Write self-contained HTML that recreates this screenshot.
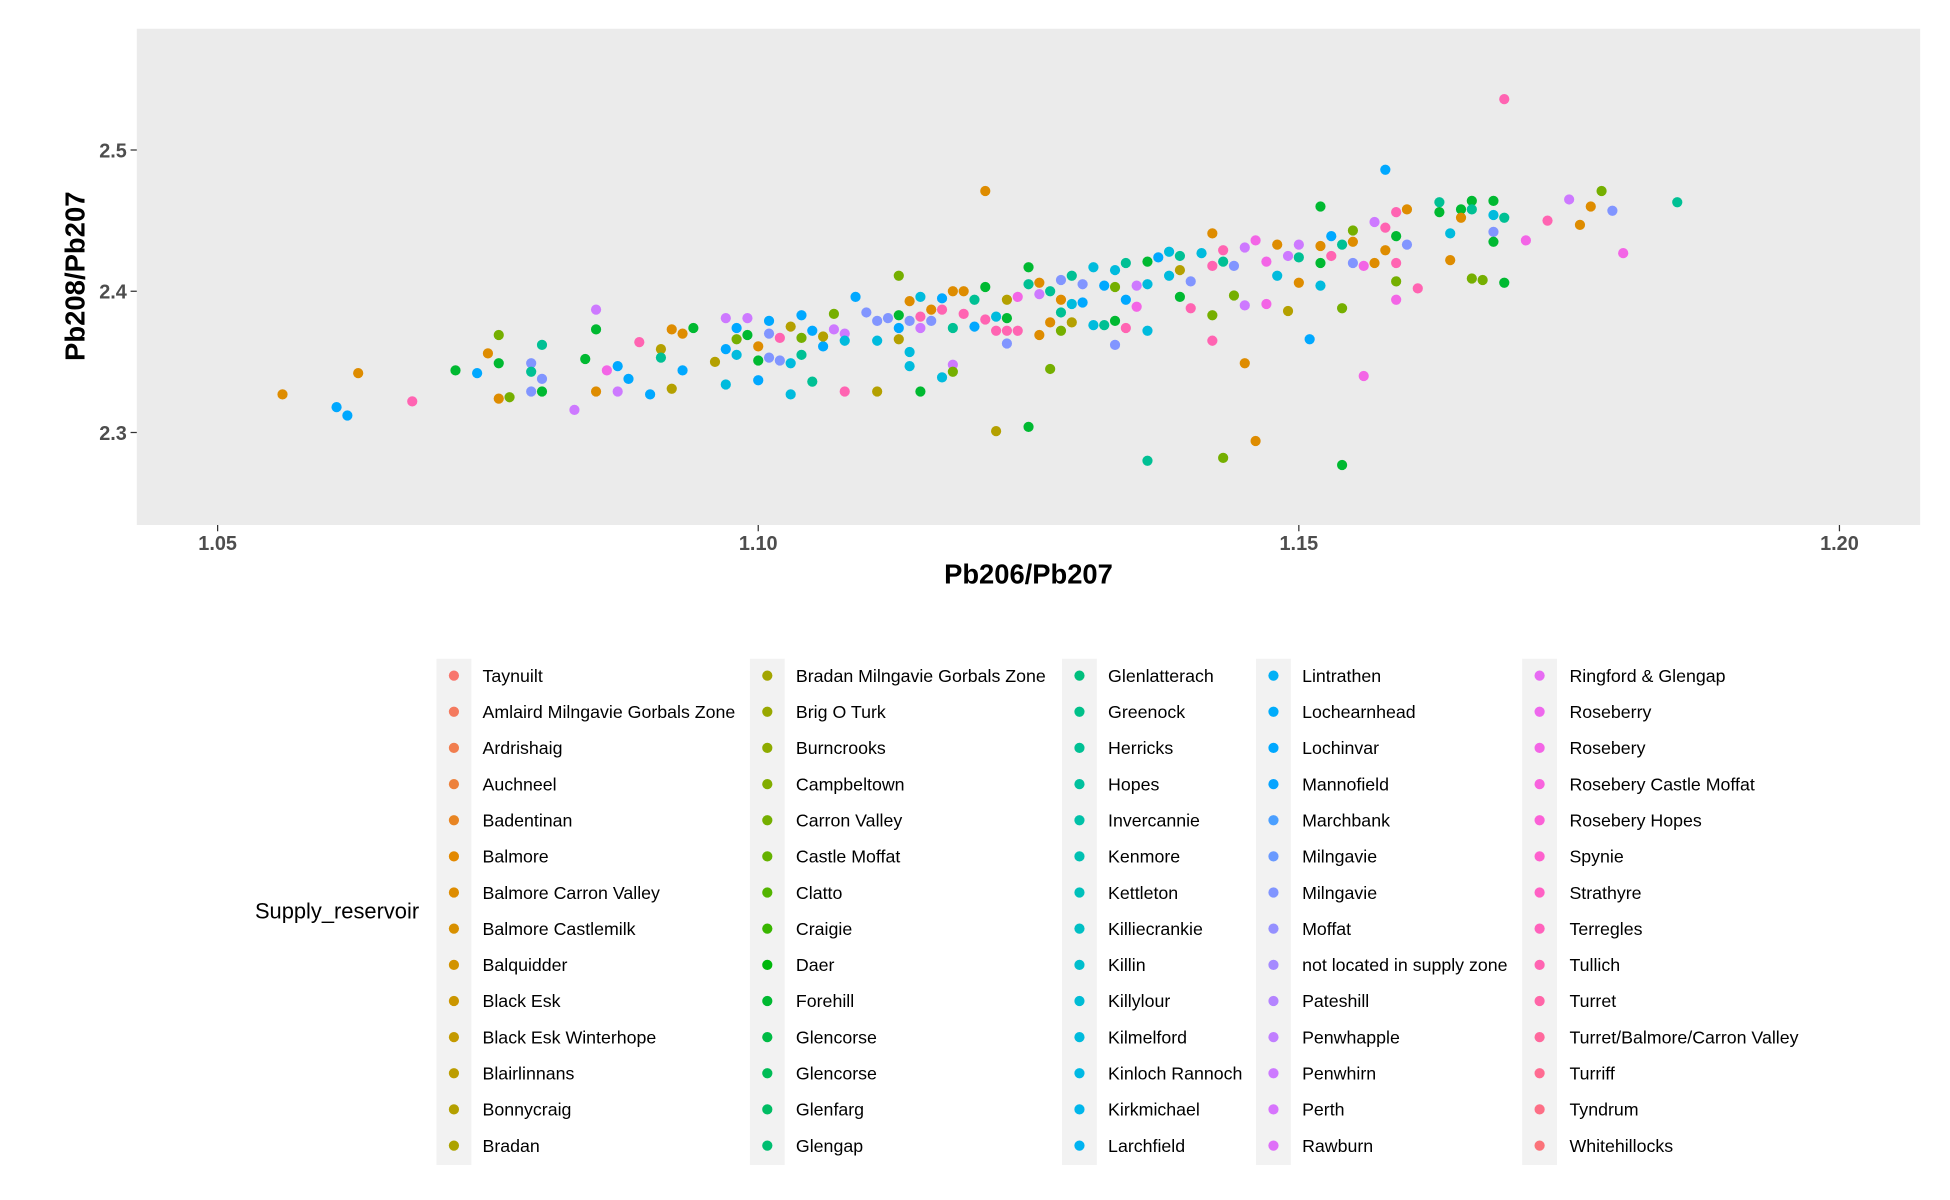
<!DOCTYPE html>
<html><head><meta charset="utf-8"><style>
html,body{margin:0;padding:0;background:#fff;}
svg{display:block;font-family:"Liberation Sans",Arial,sans-serif;}
</style></head><body>
<svg id="chart" width="1950" height="1200" viewBox="0 0 1568 960" preserveAspectRatio="none" xmlns="http://www.w3.org/2000/svg">
<rect x="110" y="23" width="1434" height="397" fill="#ebebeb"/>
<g id="points"></g>
<g id="axes"></g>
<text x="827" y="467" text-anchor="middle" font-size="22" font-weight="bold">Pb206/Pb207</text>
<text transform="translate(68,221) rotate(-90)" text-anchor="middle" font-size="22" font-weight="bold">Pb208/Pb207</text>
<text x="205" y="735" font-size="17.6">Supply_reservoir</text>
<g id="legend"></g>
</svg>
<script>
const xTicks=[1.05,1.10,1.15,1.20];
const xTickLabels=["1.05","1.10","1.15","1.20"];
const yTicks=[2.3,2.4,2.5];
const yTickLabels=["2.3","2.4","2.5"];
const categories=["Taynuilt","Amlaird Milngavie Gorbals Zone","Ardrishaig","Auchneel","Badentinan","Balmore","Balmore Carron Valley","Balmore Castlemilk","Balquidder","Black Esk","Black Esk Winterhope","Blairlinnans","Bonnycraig","Bradan",
"Bradan Milngavie Gorbals Zone","Brig O Turk","Burncrooks","Campbeltown","Carron Valley","Castle Moffat","Clatto","Craigie","Daer","Forehill","Glencorse","Glencorse","Glenfarg","Glengap",
"Glenlatterach","Greenock","Herricks","Hopes","Invercannie","Kenmore","Kettleton","Killiecrankie","Killin","Killylour","Kilmelford","Kinloch Rannoch","Kirkmichael","Larchfield",
"Lintrathen","Lochearnhead","Lochinvar","Mannofield","Marchbank","Milngavie","Milngavie","Moffat","not located in supply zone","Pateshill","Penwhapple","Penwhirn","Perth","Rawburn",
"Ringford & Glengap","Roseberry","Rosebery","Rosebery Castle Moffat","Rosebery Hopes","Spynie","Strathyre","Terregles","Tullich","Turret","Turret/Balmore/Carron Valley","Turriff","Tyndrum","Whitehillocks"];
const xValues=[1.056,1.063,1.061,1.062,1.068,1.072,1.074,1.075,1.076,1.076,1.076,1.077,1.079,1.079,1.079,1.080,1.080,1.080,1.083,1.084,1.085,1.085,1.085,1.086,1.087,1.087,1.088,1.089,1.090,1.091,1.091,1.092,1.092,1.093,1.093,1.094,1.096,1.097,1.097,1.097,1.098,1.098,1.098,1.099,1.099,1.100,1.100,1.100,1.101,1.101,1.101,1.102,1.102,1.103,1.103,1.103,1.104,1.104,1.104,1.105,1.105,1.106,1.106,1.107,1.107,1.108,1.108,1.108,1.109,1.110,1.111,1.111,1.111,1.112,1.113,1.113,1.113,1.113,1.114,1.114,1.114,1.114,1.115,1.115,1.115,1.115,1.116,1.116,1.117,1.117,1.117,1.118,1.118,1.118,1.118,1.119,1.119,1.120,1.120,1.121,1.121,1.121,1.122,1.122,1.122,1.123,1.123,1.123,1.123,1.124,1.124,1.125,1.125,1.125,1.126,1.126,1.126,1.127,1.127,1.127,1.128,1.128,1.128,1.128,1.129,1.129,1.129,1.130,1.130,1.131,1.131,1.132,1.132,1.133,1.133,1.133,1.133,1.134,1.134,1.134,1.135,1.135,1.136,1.136,1.136,1.136,1.137,1.138,1.138,1.139,1.139,1.139,1.140,1.140,1.141,1.142,1.142,1.142,1.142,1.143,1.143,1.143,1.144,1.144,1.145,1.145,1.145,1.146,1.146,1.147,1.147,1.148,1.148,1.149,1.149,1.150,1.150,1.150,1.151,1.152,1.152,1.152,1.152,1.153,1.153,1.154,1.154,1.154,1.155,1.155,1.155,1.156,1.156,1.157,1.157,1.158,1.158,1.158,1.159,1.159,1.159,1.159,1.159,1.160,1.160,1.161,1.163,1.163,1.164,1.164,1.165,1.165,1.166,1.166,1.166,1.167,1.168,1.168,1.168,1.168,1.169,1.169,1.169,1.171,1.173,1.175,1.176,1.177,1.178,1.179,1.180,1.185];
const yValues=[2.327,2.342,2.318,2.312,2.322,2.344,2.342,2.356,2.369,2.349,2.324,2.325,2.349,2.343,2.329,2.362,2.338,2.329,2.316,2.352,2.387,2.373,2.329,2.344,2.347,2.329,2.338,2.364,2.327,2.359,2.353,2.331,2.373,2.370,2.344,2.374,2.350,2.381,2.359,2.334,2.355,2.366,2.374,2.381,2.369,2.361,2.351,2.337,2.379,2.370,2.353,2.367,2.351,2.375,2.349,2.327,2.383,2.367,2.355,2.372,2.336,2.361,2.368,2.384,2.373,2.370,2.365,2.329,2.396,2.385,2.379,2.365,2.329,2.381,2.411,2.383,2.374,2.366,2.393,2.379,2.357,2.347,2.396,2.382,2.374,2.329,2.387,2.379,2.387,2.395,2.339,2.400,2.374,2.348,2.343,2.400,2.384,2.394,2.375,2.403,2.471,2.380,2.382,2.372,2.301,2.394,2.381,2.363,2.372,2.396,2.372,2.417,2.405,2.304,2.406,2.398,2.369,2.400,2.378,2.345,2.408,2.394,2.385,2.372,2.411,2.391,2.378,2.405,2.392,2.417,2.376,2.404,2.376,2.415,2.403,2.379,2.362,2.420,2.394,2.374,2.404,2.389,2.421,2.405,2.372,2.280,2.424,2.428,2.411,2.425,2.415,2.396,2.407,2.388,2.427,2.441,2.418,2.365,2.383,2.429,2.421,2.282,2.418,2.397,2.431,2.390,2.349,2.436,2.294,2.421,2.391,2.433,2.411,2.425,2.386,2.433,2.424,2.406,2.366,2.460,2.432,2.420,2.404,2.439,2.425,2.433,2.388,2.277,2.443,2.420,2.435,2.418,2.340,2.449,2.420,2.486,2.445,2.429,2.456,2.439,2.420,2.407,2.394,2.458,2.433,2.402,2.463,2.456,2.441,2.422,2.458,2.452,2.464,2.458,2.409,2.408,2.464,2.454,2.442,2.435,2.536,2.452,2.406,2.436,2.450,2.465,2.447,2.460,2.471,2.457,2.427,2.463];
const groupCodes=["o","o","b","b","k","G","b","o","g","G","o","g",
"v","t","v","t","v","G","p","G","p","G","o","m",
"b","p","b","k","b","y","t","y","o","o","b","G",
"y","p","b","c","c","g","b","p","G","o","G","b",
"b","v","v","k","v","y","c","c","b","g","t","b",
"t","b","y","g","p","p","c","k","b","v","v","c",
"y","v","g","G","b","y","o","v","c","c","c","k",
"p","G","o","v","k","b","c","o","t","p","g","o",
"k","t","b","G","o","k","c","k","y","y","G","v",
"k","m","k","G","t","G","o","p","o","t","o","g",
"v","o","t","g","t","c","y","v","b","c","c","b",
"t","c","g","G","v","t","b","k","p","m","G","c",
"c","t","b","c","c","t","y","G","v","k","c","o",
"k","k","g","k","t","g","v","g","p","p","o","m",
"o","m","m","o","c","p","y","p","t","o","b","G",
"o","G","c","b","k","t","g","G","g","v","o","m",
"m","p","o","b","k","o","k","G","k","g","m","o",
"v","k","t","G","c","o","G","o","G","t","g","g",
"G","c","v","G","k","t","G","m","k","p","o","o",
"g","v","m","t"];
const codeIndex={r:1,o:6,y:12,g:18,G:23,t:30,c:38,b:44,v:48,p:53,m:58,k:64};
function hcl(h,c,l){const r=h*Math.PI/180,u=c*Math.cos(r),v=c*Math.sin(r);
const Xn=95.047,Yn=100,Zn=108.883,d=Xn+15*Yn+3*Zn,un=4*Xn/d,vn=9*Yn/d;
const Y=Yn*Math.pow((l+16)/116,3),up=u/(13*l)+un,vp=v/(13*l)+vn;
const X=Y*9*up/(4*vp),Z=Y*(12-3*up-20*vp)/(4*vp);
const x=X/100,y=Y/100,z=Z/100;
let R=3.2404542*x-1.5371385*y-0.4985314*z,G=-0.9692660*x+1.8760108*y+0.0415560*z,B=0.0556434*x-0.2040259*y+1.0572252*z;
const g=t=>{t=t<=0.0031308?12.92*t:1.055*Math.pow(t,1/2.4)-0.055;return Math.round(Math.max(0,Math.min(1,t))*255);};
return `rgb(${g(R)},${g(G)},${g(B)})`;}
const n=categories.length;
const colors=categories.map((_,i)=>hcl(15+360*i/n,100,65));
const NS="http://www.w3.org/2000/svg";
const sx=v=>175+(v-1.05)/0.05*434.7;
const sy=v=>233-(v-2.4)/0.1*113;
function mk(tag,attrs,parent){const e=document.createElementNS(NS,tag);for(const k in attrs)e.setAttribute(k,attrs[k]);parent.appendChild(e);return e;}
const axes=document.getElementById('axes'),pts=document.getElementById('points'),leg=document.getElementById('legend');
xTicks.forEach((t,i)=>{
 const l=mk('line',{x1:sx(t),x2:sx(t),y1:420,y2:425,stroke:'#333','stroke-width':1},axes);
 
 
 const tx=mk('text',{x:sx(t),y:440,'text-anchor':'middle','font-size':16,'font-weight':'bold',fill:'#4d4d4d'},axes);
 tx.textContent=xTickLabels[i];
 
 
});
yTicks.forEach((t,i)=>{
 const l=mk('line',{x1:105,x2:110,y1:sy(t),y2:sy(t),stroke:'#333','stroke-width':1},axes);
 
 
 const tx=mk('text',{x:102,y:sy(t)+6,'text-anchor':'end','font-size':16,'font-weight':'bold',fill:'#4d4d4d'},axes);
 tx.textContent=yTickLabels[i];
 
 
});
xValues.forEach((xv,i)=>{
 const ch=groupCodes[i];
 const ci=codeIndex[ch]!==undefined?codeIndex[ch]:0;
 const c=mk('ellipse',{cx:sx(xv),cy:sy(yValues[i]),rx:4.1,ry:4.1,fill:colors[ci]},pts);
 
 
});
const colKey=[365,617,868,1024,1238],colLab=[388,640,891,1047,1262];
for(let col=0;col<5;col++){
 const bg=mk('rect',{x:colKey[col]-14,y:527,width:28,height:405,fill:'#f2f2f2'},leg);
 
 
}
categories.forEach((name,i)=>{
 const col=Math.floor(i/14),row=i%14,y=540.5+row*28.92;
 const d=mk('ellipse',{cx:colKey[col],cy:y,rx:4.1,ry:4.1,fill:colors[i]},leg);
 
 
 const t=mk('text',{x:colLab[col],y:y+5,'font-size':14.3,fill:'#000'},leg);
 t.textContent=name;
 
 
});
</script>
</body></html>
